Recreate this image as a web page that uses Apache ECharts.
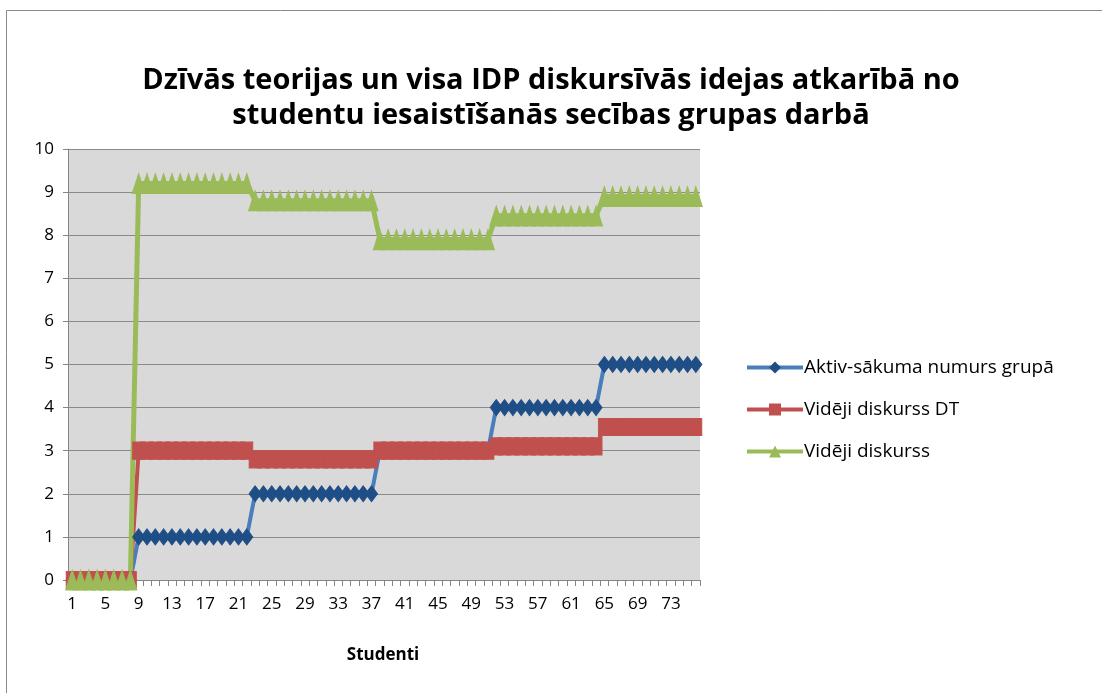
<!DOCTYPE html>
<html>
<head>
<meta charset="utf-8">
<script src="https://cdn.jsdelivr.net/npm/echarts@6/dist/echarts.min.js"></script>
<style>
  html, body { margin: 0; padding: 0; background: #ffffff; }
  #chart { width: 1102px; height: 693px; }
</style>
</head>
<body>
<div id="chart"></div>
<script>
// Student order (x axis categories)
const studenti = ['1','2','3','4','5','6','7','8','9','10','11','12','13','14','15','16','17','18','19','20',
  '21','22','23','24','25','26','27','28','29','30','31','32','33','34','35','36','37','38','39','40',
  '41','42','43','44','45','46','47','48','49','50','51','52','53','54','55','56','57','58','59','60',
  '61','62','63','64','65','66','67','68','69','70','71','72','73','74','75','76'];

// Activity start number within the group
const aktivSakums = [0,0,0,0,0,0,0,0,
  1,1,1,1,1,1,1,1,1,1,1,1,1,1,
  2,2,2,2,2,2,2,2,2,2,2,2,2,2,2,
  3,3,3,3,3,3,3,3,3,3,3,3,3,3,
  4,4,4,4,4,4,4,4,4,4,4,4,4,
  5,5,5,5,5,5,5,5,5,5,5,5];

// Average discourse of the living theory (DT)
const videjiDT = [0,0,0,0,0,0,0,0,
  3.0,3.0,3.0,3.0,3.0,3.0,3.0,3.0,3.0,3.0,3.0,3.0,3.0,3.0,
  2.8,2.8,2.8,2.8,2.8,2.8,2.8,2.8,2.8,2.8,2.8,2.8,2.8,2.8,2.8,
  3.0,3.0,3.0,3.0,3.0,3.0,3.0,3.0,3.0,3.0,3.0,3.0,3.0,3.0,
  3.1,3.1,3.1,3.1,3.1,3.1,3.1,3.1,3.1,3.1,3.1,3.1,3.1,
  3.55,3.55,3.55,3.55,3.55,3.55,3.55,3.55,3.55,3.55,3.55,3.55];

// Average discourse overall
const videji = [0,0,0,0,0,0,0,0,
  9.2,9.2,9.2,9.2,9.2,9.2,9.2,9.2,9.2,9.2,9.2,9.2,9.2,9.2,
  8.8,8.8,8.8,8.8,8.8,8.8,8.8,8.8,8.8,8.8,8.8,8.8,8.8,8.8,8.8,
  7.9,7.9,7.9,7.9,7.9,7.9,7.9,7.9,7.9,7.9,7.9,7.9,7.9,7.9,
  8.45,8.45,8.45,8.45,8.45,8.45,8.45,8.45,8.45,8.45,8.45,8.45,8.45,
  8.9,8.9,8.9,8.9,8.9,8.9,8.9,8.9,8.9,8.9,8.9,8.9];

const seriesNames = ['Aktiv-sākuma numurs grupā', 'Vidēji diskurss DT', 'Vidēji diskurss'];
const titleText = 'Dzīvās teorijas un visa IDP diskursīvās idejas atkarībā no\nstudentu iesaistīšanās secības grupas darbā';
const xAxisTitle = 'Studenti';

const fontFam = '"Open Sans", "DejaVu Sans", sans-serif';

const chart = echarts.init(document.getElementById('chart'), null, { renderer: 'canvas' });

chart.setOption({
  animation: false,
  backgroundColor: '#ffffff',
  graphic: [
    {
      type: 'rect',
      shape: { x: 6.5, y: 10.5, width: 1100, height: 684 },
      style: { fill: 'none', stroke: '#8a8a8a', lineWidth: 1 },
      silent: true
    },
    {
      type: 'text',
      x: 383,
      y: 655,
      style: {
        text: xAxisTitle,
        font: 'bold 17px ' + fontFam,
        fill: '#000',
        align: 'center',
        verticalAlign: 'middle'
      }
    }
  ],
  title: {
    text: titleText,
    left: 'center',
    top: 58,
    textStyle: {
      fontFamily: fontFam,
      fontWeight: 'bold',
      fontSize: 29,
      lineHeight: 35,
      color: '#000'
    }
  },
  legend: {
    orient: 'vertical',
    left: 740,
    top: 353,
    itemGap: 23,
    itemWidth: 56,
    itemHeight: 15,
    data: seriesNames,
    lineStyle: { width: 4 },
    textStyle: { fontFamily: fontFam, fontSize: 19, color: '#000', padding: [0, 0, 0, -4] }
  },
  grid: {
    left: 68,
    right: 402,
    top: 149,
    bottom: 113,
    show: true,
    backgroundColor: '#d9d9d9',
    borderWidth: 0
  },
  xAxis: {
    type: 'category',
    data: studenti,
    boundaryGap: true,
    axisLine: { show: true, lineStyle: { color: '#868686', width: 1 } },
    axisTick: { show: true, interval: 0, length: 6, lineStyle: { color: '#868686' } },
    axisLabel: {
      interval: 3,
      margin: 16,
      fontFamily: fontFam,
      fontSize: 17,
      color: '#000'
    },
    splitLine: { show: false }
  },
  yAxis: {
    type: 'value',
    min: 0,
    max: 10,
    interval: 1,
    axisLine: { show: true, lineStyle: { color: '#868686', width: 1 } },
    axisTick: { show: true, length: 5, lineStyle: { color: '#868686' } },
    axisLabel: {
      margin: 14,
      fontFamily: fontFam,
      fontSize: 17,
      color: '#000'
    },
    splitLine: { show: true, lineStyle: { color: '#8a8a8a', width: 1 } }
  },
  series: [
    {
      name: seriesNames[0],
      type: 'line',
      data: aktivSakums,
      showAllSymbol: true,
      symbol: 'diamond',
      symbolSize: [12, 16],
      lineStyle: { color: '#4a7ebb', width: 4 },
      itemStyle: { color: '#1f4e87', borderColor: '#1f4e87' },
      color: '#4a7ebb'
    },
    {
      name: seriesNames[1],
      type: 'line',
      data: videjiDT,
      showAllSymbol: true,
      symbol: 'rect',
      symbolSize: [12, 17],
      lineStyle: { color: '#c0504d', width: 4 },
      itemStyle: { color: '#c0504d', borderColor: '#c0504d' },
      color: '#c0504d'
    },
    {
      name: seriesNames[2],
      type: 'line',
      data: videji,
      showAllSymbol: true,
      symbol: 'triangle',
      symbolSize: [13, 20],
      lineStyle: { color: '#9bbb59', width: 5 },
      itemStyle: { color: '#9bbb59', borderColor: '#9bbb59' },
      color: '#9bbb59'
    }
  ]
});
</script>
</body>
</html>
